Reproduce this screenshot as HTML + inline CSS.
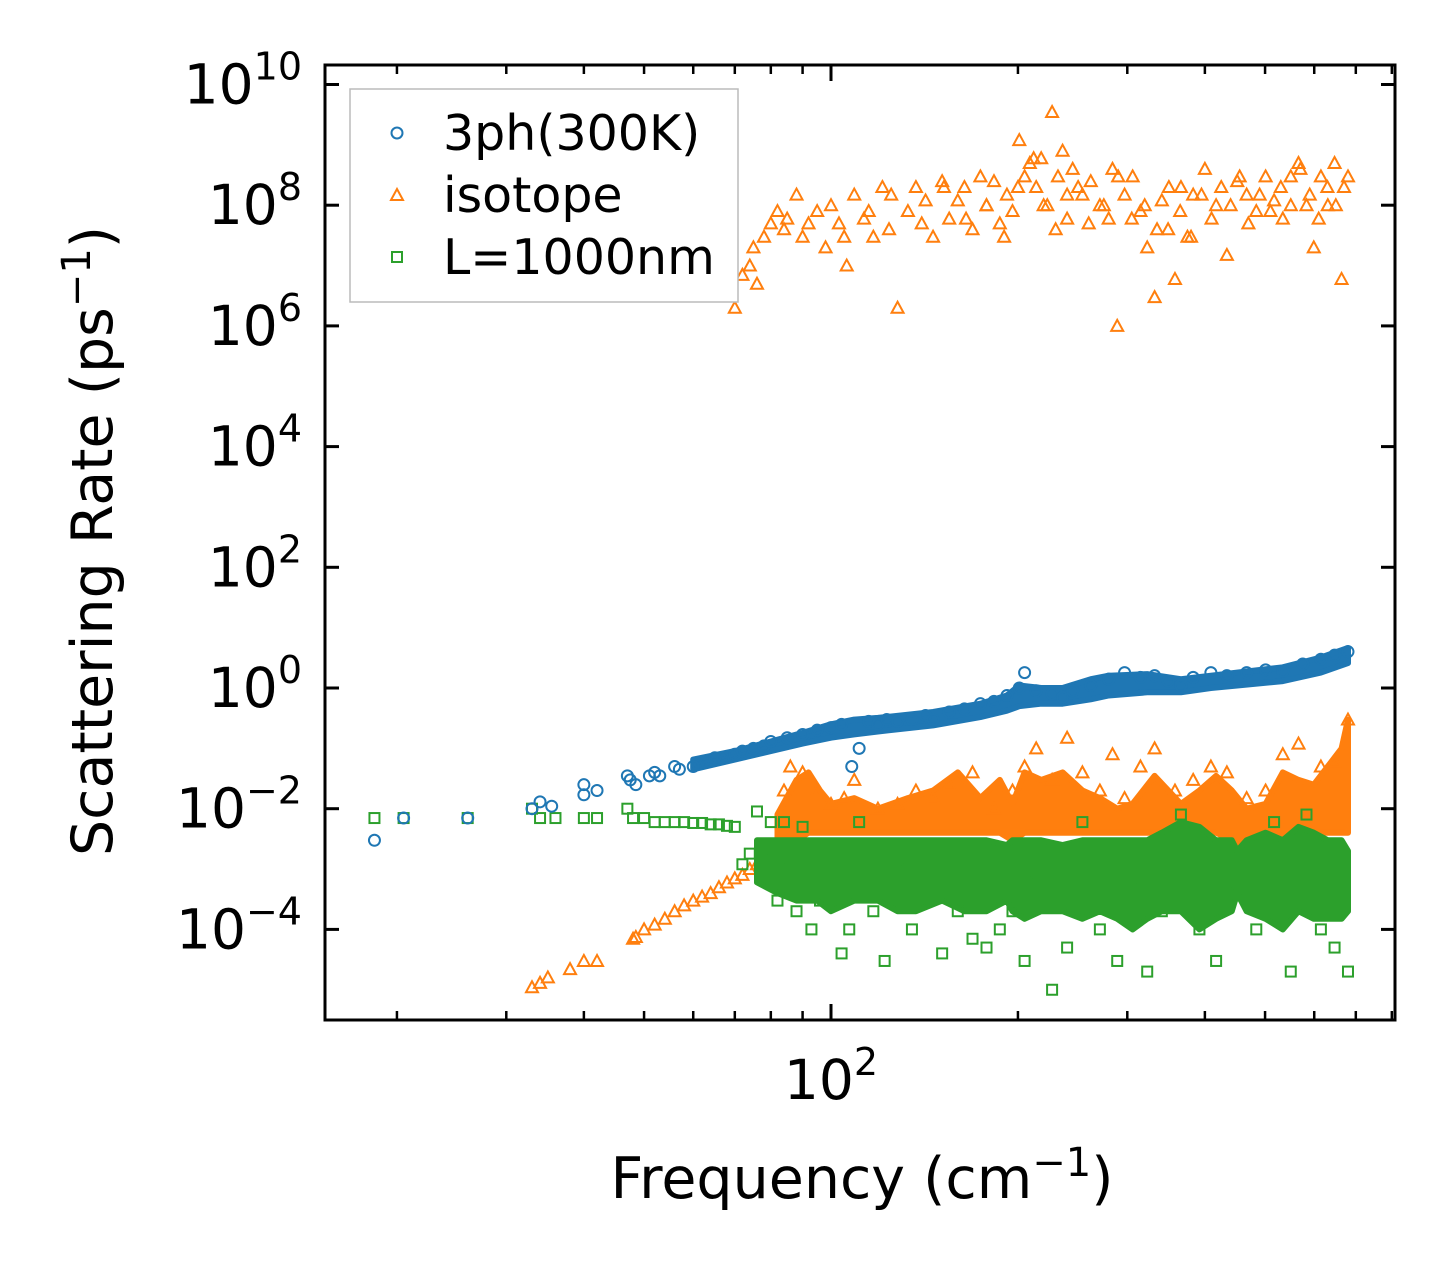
<!DOCTYPE html>
<html><head><meta charset="utf-8"><style>
html,body{margin:0;padding:0;background:#fff;}
svg text{font-family:"DejaVu Sans","Liberation Sans",sans-serif;fill:#000;}
</style></head><body>
<svg id="chart" width="1455" height="1270" viewBox="0 0 1455 1270" xmlns="http://www.w3.org/2000/svg">
<rect width="1455" height="1270" fill="#fff"/>
<g id="bands"></g>
<g id="marks"></g>
<g id="axes"></g>
<text transform="translate(112,541) rotate(-90)" text-anchor="middle" font-size="57">Scattering Rate (ps<tspan dy="-22" font-size="40">−1</tspan><tspan dy="22">)</tspan></text>
<text x="862" y="1198" text-anchor="middle" font-size="57">Frequency (cm<tspan dy="-22" font-size="40">−1</tspan><tspan dy="22">)</tspan></text>
<g>
<rect x="350" y="89" width="388" height="213" fill="#fff" stroke="#bbb" stroke-width="1.5"/>
<circle cx="397" cy="133" r="5.5" fill="none" stroke="#1f77b4" stroke-width="2"/>
<text x="443" y="150" font-size="49">3ph(300K)</text>
<polygon points="397,189 403,200 391,200" fill="none" stroke="#ff7f0e" stroke-width="2"/>
<text x="443" y="212" font-size="49">isotope</text>
<rect x="392" y="252" width="10" height="10" fill="none" stroke="#2ca02c" stroke-width="2"/>
<text x="443" y="274" font-size="49">L=1000nm</text>
</g>
</svg>
<script>
const L=325,R=1395,T=65,B=1020;
const X100=831, XD=621, Y0=688, YD=60.35;
function xs(f){return X100+(Math.log10(f)-2)*XD;}
function ys(v){return Y0-Math.log10(v)*YD;}
const NS='http://www.w3.org/2000/svg';

// ---- data ----
const yTickExps=[-4,-2,0,2,4,6,8,10];
const xMinorTicks=[20,30,40,50,60,70,80,90,200,300,400,500,600,700,800];
const xMajorTicks=[100];

const phF=[18.4,20.5,26,33,34,35.5,40,40,42,47,47.5,48.5,51,52,53,56,57,60,61,63,65,67,70,72,75,78,80,85,90,95,100,104,108,111,115,119,123,128,135,142,146,155,164,174,183,192,201,205,214,227,236,245,262,280,297,315,332,349,366,383,409,434,467,501,534,575,615,647,680];
const phV=[0.003,0.007,0.007,0.01,0.013,0.011,0.025,0.017,0.02,0.035,0.03,0.025,0.035,0.04,0.035,0.05,0.045,0.05,0.055,0.06,0.07,0.07,0.08,0.09,0.1,0.11,0.13,0.15,0.17,0.2,0.22,0.25,0.05,0.1,0.28,0.25,0.3,0.28,0.3,0.35,0.3,0.4,0.45,0.55,0.6,0.75,1.0,1.8,0.9,0.8,0.7,0.9,1.1,1.4,1.8,1.5,1.6,1.3,1.1,1.5,1.8,1.6,1.8,2.0,1.9,2.5,3.0,3.5,4.0];
const phBandF=[60,70,80,90,100,109,119,146,174,192,201,218,236,262,280,323,366,409,451,534,615,680];
const phBandLo=[0.045,0.065,0.09,0.12,0.15,0.17,0.19,0.24,0.33,0.42,0.5,0.55,0.55,0.65,0.75,0.85,0.85,1.0,1.1,1.3,1.8,2.6];
const phBandHi=[0.065,0.09,0.13,0.18,0.25,0.3,0.32,0.4,0.55,0.75,1.1,1.0,1.0,1.4,1.6,1.7,1.4,1.6,1.8,2.2,3.2,4.6];

const isoF=[33,34,35,38,40,42,48,48.5,50,52,54,56,58,60,62,64,66,68,70,72,74,76,78,82,84,86,90,95,100,105,109,119,128,137,146,155,169,183,196,205,214,227,240,254,271,284,297,315,332,358,383,409,434,467,501,534,566,615,647,680];
const isoV=[1.1e-5,1.3e-5,1.6e-5,2.2e-5,3e-5,3e-5,7e-5,7.5e-5,1e-4,1.2e-4,1.5e-4,2e-4,2.5e-4,3e-4,3.5e-4,4e-4,5e-4,6e-4,7e-4,8e-4,1e-3,1.2e-3,1.5e-3,2e-3,0.02,0.05,0.04,0.02,0.012,0.015,0.03,0.01,0.012,0.02,0.015,0.025,0.04,0.01,0.02,0.05,0.1,0.03,0.15,0.04,0.02,0.08,0.015,0.05,0.1,0.02,0.03,0.05,0.04,0.015,0.02,0.08,0.12,0.05,0.06,0.3];
const isoBandF=[82,88,92,96,100,109,119,133,146,160,174,187,196,205,218,236,254,271,289,306,332,366,392,417,442,467,501,534,566,599,631,664,680];
const isoBandLo=[2e-3,3e-3,4e-3,4e-3,4e-3,4e-3,4e-3,4e-3,4e-3,4e-3,4e-3,4e-3,3e-3,4e-3,4e-3,4e-3,4e-3,4e-3,4e-3,4e-3,4e-3,4e-3,4e-3,4e-3,3e-3,2e-3,3e-3,3e-3,3e-3,4e-3,4e-3,4e-3,4e-3];
const isoBandHi=[8e-3,0.03,0.04,0.02,0.012,0.015,0.01,0.015,0.02,0.04,0.015,0.03,0.012,0.04,0.03,0.04,0.02,0.015,0.01,0.012,0.035,0.012,0.02,0.035,0.02,0.01,0.012,0.04,0.03,0.025,0.05,0.1,0.3];

const isoHiF=[70,72,74,76,78,80,82,85,88,90,95,98,100,103,106,109,113,117,121,124,128,133,137,142,146,151,155,160,164,169,174,178,183,187,192,196,201,205,209,214,218,223,227,232,236,240,245,254,262,271,280,284,289,297,306,315,323,332,341,349,358,366,375,383,400,417,434,451,467,484,501,517,534,550,566,583,599,615,631,647,664,680,
 75,84,92,105,115,125,140,152,165,178,190,200,212,220,230,240,250,260,275,290,305,320,335,350,365,380,395,410,425,440,455,470,490,510,530,550,570,590,610,630,650,670];
const isoHiV=[2e6,7e6,1e7,5e6,3e7,5e7,8e7,6e7,1.5e8,3e7,8e7,2e7,1e8,5e7,1e7,1.5e8,6e7,3e7,2e8,4e7,2e6,8e7,2e8,1.2e8,3e7,2.5e8,6e7,1.2e8,2e8,4e7,3e8,1e8,2.5e8,5e7,1.5e8,8e7,1.2e9,3e8,5e8,2e8,6e8,1e8,3.5e9,3e8,8e8,6e7,4e8,1.5e8,2.5e8,1e8,6e7,4e8,1e6,1.5e8,3e8,8e7,2e7,3e6,1.2e8,4e7,6e6,2e8,3e7,1.5e8,4e8,1e8,1.5e7,2.5e8,1.5e8,8e7,3e8,1.2e8,6e7,3e8,5e8,1e8,2e7,3e8,1e8,5e8,6e6,3e8,
 2e7,4e7,5e7,3e7,8e7,1.5e8,5e7,2e8,6e7,1e8,3e7,2e8,6e8,1e8,4e7,1.5e8,2e8,5e7,1e8,3e8,6e7,1e8,4e7,2e8,8e7,3e7,1.5e8,6e7,2e8,1e8,3e8,5e7,1.5e8,8e7,2e8,1e8,4e8,1.5e8,6e7,2e8,1e8,2e8];

const bdF=[18.4,20.5,26,33,34,36,40,42,47,48,50,52,54,56,58,60,62,64,66,68,70,72,74,76,78,80,82,84,86,88,90,93,96,100,104,107,111,117,122,128,135,143,151,160,169,178,187,196,205,214,227,240,254,271,289,306,323,341,366,392,417,451,484,517,550,583,615,647,680];
const bdV=[0.007,0.007,0.007,0.01,0.007,0.007,0.007,0.007,0.01,0.007,0.007,0.006,0.006,0.006,0.006,0.0058,0.0058,0.0055,0.0055,0.0052,0.005,0.0012,0.0018,0.009,0.002,0.006,3e-4,6e-3,1e-3,2e-4,5e-3,1e-4,3e-4,8e-4,4e-5,1e-4,6e-3,2e-4,3e-5,1e-3,1e-4,3e-4,4e-5,2e-4,7e-5,5e-5,1e-4,2e-4,3e-5,6e-4,1e-5,5e-5,6e-3,1e-4,3e-5,5e-4,2e-5,2e-4,8e-3,1e-4,3e-5,4e-4,1e-4,6e-3,2e-5,8e-3,1e-4,5e-5,2e-5];
const bdBandF=[76,82,88,95,100,109,119,128,137,151,164,178,192,196,205,218,236,254,271,289,306,323,341,366,392,417,442,451,467,501,534,566,599,631,664,680];
const bdBandLo=[6e-4,4e-4,3e-4,3e-4,2e-4,3e-4,3e-4,2e-4,2e-4,3e-4,2e-4,2e-4,3e-4,2e-4,1.5e-4,2e-4,2e-4,1.5e-4,2e-4,1.5e-4,1e-4,1.5e-4,2e-4,2e-4,1e-4,1.5e-4,2e-4,4e-4,2e-4,1.5e-4,1e-4,2e-4,1.5e-4,1.5e-4,1.5e-4,2e-4];
const bdBandHi=[3e-3,3e-3,3e-3,3e-3,3e-3,3e-3,3e-3,3e-3,3e-3,3e-3,3e-3,3e-3,2.5e-3,3e-3,3e-3,3e-3,2.5e-3,3e-3,3e-3,3e-3,3e-3,3e-3,4e-3,6e-3,5e-3,3e-3,3e-3,2e-3,3e-3,4e-3,3e-3,5e-3,4e-3,3e-3,3e-3,2e-3];

const BLUE='#1f77b4',ORANGE='#ff7f0e',GREEN='#2ca02c';
const bands=document.getElementById('bands'), marks=document.getElementById('marks'), axes=document.getElementById('axes');

function band(F,lo,hi,color,name,g){
  const top=F.map((f,i)=>xs(f).toFixed(1)+','+ys(hi[i]).toFixed(1));
  const bot=F.map((f,i)=>xs(f).toFixed(1)+','+ys(lo[i]).toFixed(1)).reverse();
  const p=document.createElementNS(NS,'polygon');
  p.setAttribute('points',top.concat(bot).join(' '));
  p.setAttribute('fill',color);p.setAttribute('stroke',color);p.setAttribute('stroke-width','6');p.setAttribute('stroke-linejoin','round');
  
  
  g.appendChild(p);
}

function addMarks(F,V,type,color,name){
  const g=document.createElementNS(NS,'g');
  
  
  F.forEach((f,i)=>{
    const x=xs(f),y=ys(V[i]);let el;
    if(type==='c'){el=document.createElementNS(NS,'circle');el.setAttribute('cx',x);el.setAttribute('cy',y);el.setAttribute('r',5.5);}
    else if(type==='t'){el=document.createElementNS(NS,'polygon');el.setAttribute('points',`${x},${y-6} ${x+6},${y+5} ${x-6},${y+5}`);}
    else {el=document.createElementNS(NS,'rect');el.setAttribute('x',x-5);el.setAttribute('y',y-5);el.setAttribute('width',10);el.setAttribute('height',10);}
    el.setAttribute('fill','none');el.setAttribute('stroke',color);el.setAttribute('stroke-width','2');
    
    
    g.appendChild(el);
  });
  marks.appendChild(g);
}
addMarks(isoHiF,isoHiV,'t',ORANGE,'isotope-high-series');
band(isoBandF,isoBandLo,isoBandHi,ORANGE,'band-isotope-low',marks);
addMarks(isoF,isoV,'t',ORANGE,'isotope-series');
band(bdBandF,bdBandLo,bdBandHi,GREEN,'band-boundary',marks);
addMarks(bdF,bdV,'s',GREEN,'boundary-series');
band(phBandF,phBandLo,phBandHi,BLUE,'band-3ph',marks);
addMarks(phF,phV,'c',BLUE,'3ph-series');

function line(x1,y1,x2,y2,w,name){
  const l=document.createElementNS(NS,'line');
  l.setAttribute('x1',x1);l.setAttribute('y1',y1);l.setAttribute('x2',x2);l.setAttribute('y2',y2);
  l.setAttribute('stroke','#000');l.setAttribute('stroke-width',w);
  
  
  axes.appendChild(l);
}
function txt(x,y,base,exp,name){
  const t=document.createElementNS(NS,'text');
  t.setAttribute('x',x);t.setAttribute('y',y);t.setAttribute('text-anchor','end');t.setAttribute('font-size','55');
  t.innerHTML=base+'<tspan dy="-24" font-size="38">'+exp+'</tspan>';
  
  
  axes.appendChild(t);
}
yTickExps.forEach(e=>{
  const y=ys(Math.pow(10,e));
  line(L,y,L+14,y,3,'y-tick');
  line(R-14,y,R,y,3,'y-tick-right');
  txt(302,y+19,'10',String(e).replace('-','−'),'y-tick-label');
});
xMinorTicks.forEach(f=>{const x=xs(f);line(x,B,x,B-9,2.5,'x-minor-tick');line(x,T,x,T+9,2.5,'x-minor-tick-top');});
xMajorTicks.forEach(f=>{
  const x=xs(f);line(x,B,x,B-16,3,'x-major-tick');line(x,T,x,T+16,3,'x-major-tick-top');
  const t=document.createElementNS(NS,'text');
  t.setAttribute('x',x);t.setAttribute('y',1099);t.setAttribute('text-anchor','middle');t.setAttribute('font-size','55');
  t.innerHTML='10<tspan dy="-24" font-size="38">'+Math.log10(f)+'</tspan>';
  
  
  axes.appendChild(t);
});
const fr=document.createElementNS(NS,'rect');
fr.setAttribute('x',L);fr.setAttribute('y',T);fr.setAttribute('width',R-L);fr.setAttribute('height',B-T);
fr.setAttribute('fill','none');fr.setAttribute('stroke','#000');fr.setAttribute('stroke-width','3');


axes.appendChild(fr);
</script>
</body></html>
